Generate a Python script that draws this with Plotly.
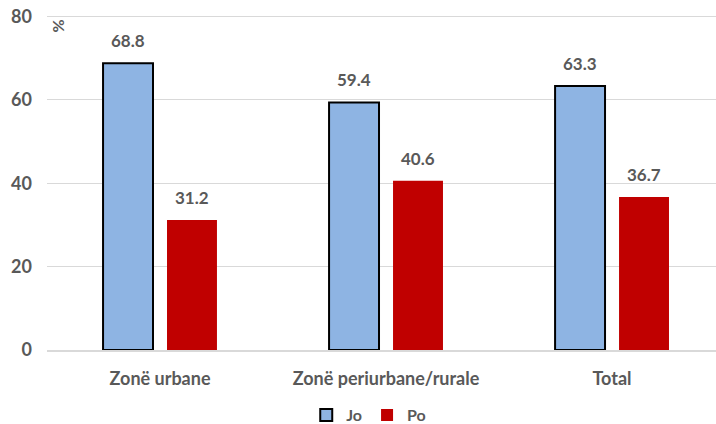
import plotly.graph_objects as go

categories = ["Zonë urbane", "Zonë periurbane/rurale", "Total"]
jo_values = [68.8, 59.4, 63.3]
po_values = [31.2, 40.6, 36.7]
y_ticks = [0, 20, 40, 60, 80]

FONT = "Lato"
GRAY = "#595959"
W_BAR = 0.221

fig = go.Figure()
fig.add_trace(go.Bar(
    name="Jo", x=categories, y=jo_values, width=W_BAR, offset=-0.252,
    marker=dict(color="#8EB4E3", line=dict(color="black", width=2)),
))
fig.add_trace(go.Bar(
    name="Po", x=categories, y=po_values, width=W_BAR, offset=0.031,
    marker=dict(color="#C00000", line=dict(color="#C00000", width=0)),
))

for c, v in zip(categories, jo_values):
    fig.add_annotation(x=c, y=v, text=f"{v:.1f}", showarrow=False, xshift=-32,
                       yanchor="bottom", yshift=10,
                       font=dict(family=FONT, size=17, color=GRAY, weight="bold"))
for c, v in zip(categories, po_values):
    fig.add_annotation(x=c, y=v, text=f"{v:.1f}", showarrow=False, xshift=32,
                       yanchor="bottom", yshift=10,
                       font=dict(family=FONT, size=17, color=GRAY, weight="bold"))

fig.add_annotation(xref="paper", yref="paper", x=0.016, y=0.965, text="%",
                   textangle=-90, showarrow=False, xanchor="center", yanchor="middle",
                   font=dict(family=FONT, size=16, color=GRAY, weight="bold"))

fig.update_layout(
    width=716, height=424,
    margin=dict(l=47, r=0, t=13.5, b=74),
    plot_bgcolor="white", paper_bgcolor="white",
    barmode="group",
    font=dict(family=FONT, size=16, color=GRAY),
    showlegend=True,
    legend=dict(orientation="h", x=0.515, xanchor="center", xref="container",
                y=0.021, yanchor="middle", yref="container",
                font=dict(family=FONT, size=16, color=GRAY, weight="bold"),
                itemwidth=30, traceorder="normal"),
    xaxis=dict(range=[-0.5, 2.46], showgrid=False, showline=True,
               linecolor="#D9D9D9", linewidth=1.5, ticks="", automargin=False,
               tickfont=dict(family=FONT, size=18, color=GRAY, weight="bold"),
               ticklabelstandoff=12),
    yaxis=dict(range=[0, 80.6], tickvals=y_ticks, showgrid=True,
               gridcolor="#D9D9D9", gridwidth=1, zeroline=False,
               showline=False, ticks="", automargin=False,
               ticklabeloverflow="allow",
               tickfont=dict(family=FONT, size=18, color=GRAY, weight="bold"),
               ticklabelstandoff=14),
)

fig.write_html("out.html", config={"displayModeBar": False},
               post_script="document.body.style.margin='0';")
